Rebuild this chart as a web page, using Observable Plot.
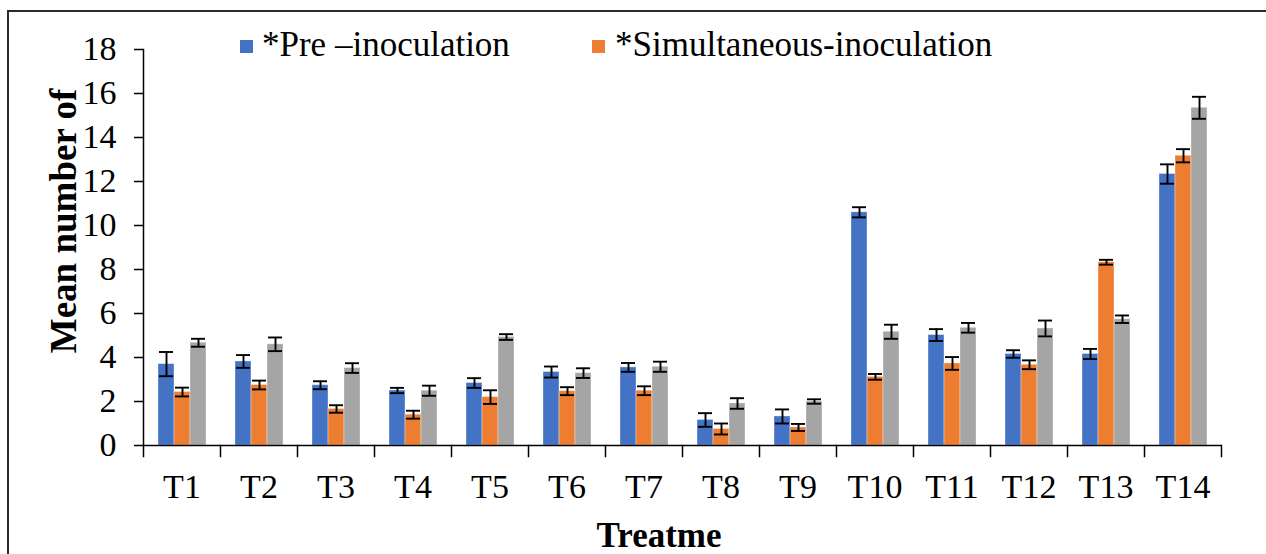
<!DOCTYPE html>
<html>
<head>
<meta charset="utf-8">
<script src="https://cdn.jsdelivr.net/npm/d3@7"></script>
<script src="https://cdn.jsdelivr.net/npm/@observablehq/plot@0.6"></script>
<style>
  html, body { margin: 0; padding: 0; background: #fff; }
  body { width: 1266px; height: 554px; overflow: hidden; position: relative;
         font-family: "Liberation Serif", "Times New Roman", serif; color: #000; }
  #border { position: absolute; left: 7px; top: 10px; width: 1400px; height: 700px;
            border-left: 2px solid #2b2b2b; border-top: 2px solid #2b2b2b; }
  #chart { position: absolute; left: 0; top: 0; }
  .legend-item { position: absolute; top: 27px; font-size: 35px; line-height: 35px; white-space: nowrap; }
  .legend-swatch { position: absolute; width: 13px; height: 13px; top: 40px; }
  #ytitle { position: absolute; left: 62.5px; top: 221px; font-size: 37px; line-height: 37px;
            font-weight: bold; white-space: nowrap; transform: translate(-50%, -50%) rotate(-90deg); }
  #xtitle { position: absolute; left: 659px; top: 518px; font-size: 35px; line-height: 35px;
            font-weight: bold; white-space: nowrap; transform: translateX(-50%); }
</style>
</head>
<body>
<div id="border"></div>
<div id="chart"></div>
<div id="legend"></div>
<div id="ytitle"></div>
<div id="xtitle"></div>
<script>
// ---- data ----
const treatments = ["T1","T2","T3","T4","T5","T6","T7","T8","T9","T10","T11","T12","T13","T14"];
const seriesNames = ["*Pre \u2013inoculation", "*Simultaneous-inoculation", "Series3"];
const seriesColors = ["#4472C4", "#ED7D31", "#A5A5A5"];

const preValues  = [3.70, 3.82, 2.74, 2.50, 2.84, 3.34, 3.55, 1.16, 1.32, 10.60, 5.02, 4.16, 4.16, 12.34];
const preErrors  = [0.55, 0.29, 0.18, 0.12, 0.22, 0.25, 0.20, 0.31, 0.32, 0.23, 0.27, 0.17, 0.23, 0.44];
const simValues  = [2.43, 2.75, 1.66, 1.40, 2.20, 2.47, 2.49, 0.75, 0.82, 3.12, 3.73, 3.67, 8.33, 13.17];
const simErrors  = [0.20, 0.20, 0.17, 0.18, 0.31, 0.18, 0.20, 0.25, 0.16, 0.13, 0.29, 0.20, 0.11, 0.30];
const s3Values   = [4.67, 4.60, 3.52, 2.49, 4.93, 3.29, 3.58, 1.91, 2.00, 5.17, 5.35, 5.32, 5.74, 15.35];
const s3Errors   = [0.18, 0.31, 0.22, 0.23, 0.13, 0.22, 0.23, 0.24, 0.10, 0.32, 0.22, 0.36, 0.17, 0.50];

const yTicks = [0, 2, 4, 6, 8, 10, 12, 14, 16, 18];
const yDomain = [0, 18];
const yTitle = "Mean number of";
const xTitle = "Treatme";
const legendShown = [0, 1];

// ---- table built from the arrays ----
const valueSets = [preValues, simValues, s3Values];
const errorSets = [preErrors, simErrors, s3Errors];
const rows = [];
treatments.forEach((t, i) => {
  seriesNames.forEach((s, k) => {
    rows.push({treatment: t, series: s, value: valueSets[k][i], error: errorSets[k][i]});
  });
});

// ---- layout ----
const W = 1266, H = 554;
const mTop = 49, mBottom = 109, mLeft = 141, mRight = 43;
const plotH = H - mTop - mBottom;
const font = '"Liberation Serif", "Times New Roman", serif';

const chart = Plot.plot({
  width: W, height: H,
  marginTop: mTop, marginBottom: mBottom, marginLeft: mLeft, marginRight: mRight,
  style: {fontFamily: font, fontSize: "34px", color: "#000", background: "transparent", overflow: "visible"},
  fx: {domain: treatments, padding: 0, label: null, axis: null},
  x: {domain: seriesNames, paddingInner: 0, paddingOuter: 0.77, axis: null},
  y: {domain: yDomain, axis: null},
  color: {domain: seriesNames, range: seriesColors},
  marks: [
    Plot.barY(rows, {fx: "treatment", x: "series", y: "value", fill: "series",
      insetLeft: 0, insetRight: 0, stroke: "#fff", strokeOpacity: 0.35, strokeWidth: 1}),
    Plot.ruleX(rows, {fx: "treatment", x: "series", y1: d => d.value - d.error, y2: d => d.value + d.error,
      stroke: "#000", strokeWidth: 1.9}),
    Plot.tickY(rows, {fx: "treatment", x: "series", y: d => d.value + d.error,
      stroke: "#000", strokeWidth: 1.9, insetLeft: 1, insetRight: 1}),
    Plot.tickY(rows, {fx: "treatment", x: "series", y: d => d.value - d.error,
      stroke: "#000", strokeWidth: 1.9, insetLeft: 1, insetRight: 1}),
    Plot.ruleY([0], {stroke: "#000", strokeWidth: 1.5}),
    Plot.frame({anchor: "left", facet: "super", stroke: "#000", strokeWidth: 1.5}),
    Plot.frame({anchor: "left", insetTop: plotH, insetBottom: -11, stroke: "#000", strokeWidth: 1.5}),
    Plot.frame({anchor: "right", facet: "super", insetTop: plotH, insetBottom: -11, stroke: "#000", strokeWidth: 1.5}),
    Plot.axisY({ticks: yTicks, tickSize: 9, tickPadding: 18, fontSize: 34, label: null,
      tickFormat: d => String(d), stroke: "#000", strokeWidth: 1.5}),
    Plot.axisFx({anchor: "bottom", tickSize: 0, tickPadding: 28, fontSize: 34, label: null})
  ]
});
document.getElementById("chart").appendChild(chart);

// ---- legend and titles ----
const legend = document.getElementById("legend");
const legendSwatchX = [240, 592];
const legendTextX = [262, 615];
legendShown.forEach((k, j) => {
  const sw = document.createElement("div");
  sw.className = "legend-swatch";
  sw.style.left = legendSwatchX[j] + "px";
  sw.style.background = seriesColors[k];
  legend.appendChild(sw);
  const tx = document.createElement("div");
  tx.className = "legend-item";
  tx.style.left = legendTextX[j] + "px";
  tx.textContent = seriesNames[k];
  legend.appendChild(tx);
});
document.getElementById("ytitle").textContent = yTitle;
document.getElementById("xtitle").textContent = xTitle;
</script>
</body>
</html>
